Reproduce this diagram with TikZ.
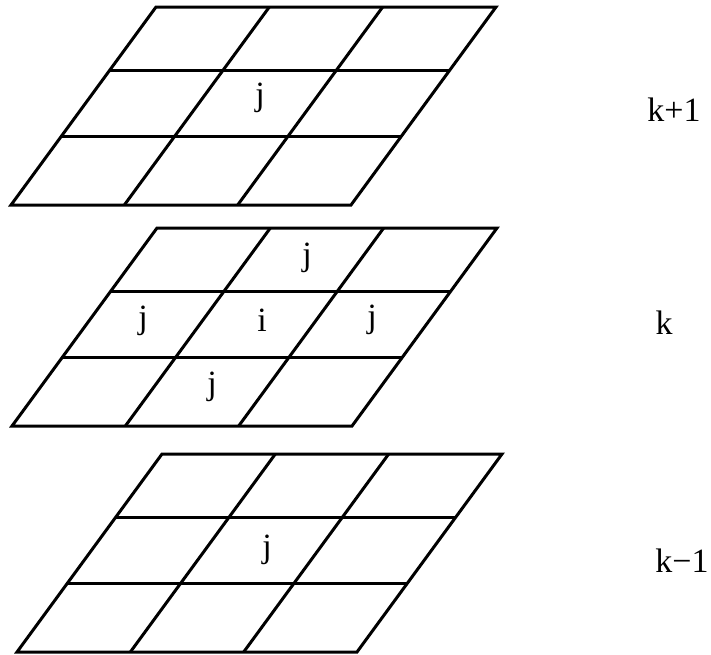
\documentclass[tikz,border=0pt]{standalone}
\usepackage{fontspec}
\setmainfont{Liberation Serif}
\usetikzlibrary{positioning}
\tikzset{
  gridline/.style={draw=black,line width=1.5pt,line join=miter},
  cell/.style    ={font=\fontsize{17}{20}\selectfont,inner sep=0pt},
  layer/.style   ={font=\fontsize{17}{20}\selectfont,inner sep=0pt},
}
\begin{document}
\begin{tikzpicture}[x=0.5pt,y=-0.5pt]
\useasboundingbox (0,0) rectangle (711,654);
% one sheared 3x3 grid per layer, given by its top left corner
\foreach \gx/\gy in {156/7,157/228,162/454}{
  \draw[gridline] (\gx,\gy) -- ++(340,0) -- ++(-145,198) -- ++(-340,0) -- cycle;
  \foreach \f in {0.32,0.655}
    \draw[gridline] (\gx-145*\f,\gy+198*\f) -- ++(340,0);
  \foreach \c in {1,2}
    \draw[gridline] (\gx+340*\c/3,\gy) -- ++(-145,198);
}
% layer k+1
\node[cell] (jup) at (260,98) {j};
% layer k
\node[cell] (jn) at (307,258) {j};
\node[cell] (jw) at (143,321) {j};
\node[cell] (i)  at (262,320) {i};
\node[cell] (je) at (372,320) {j};
\node[cell] (js) at (212,387) {j};
% layer k-1
\node[cell] (jdown) at (267,550) {j};
% layer names
\node[layer] (kup)   at (674,110) {k+1};
\node[layer] (k)     at (664,323) {k};
\node[layer] (kdown) at (682,561) {k−1};
\end{tikzpicture}
\end{document}
